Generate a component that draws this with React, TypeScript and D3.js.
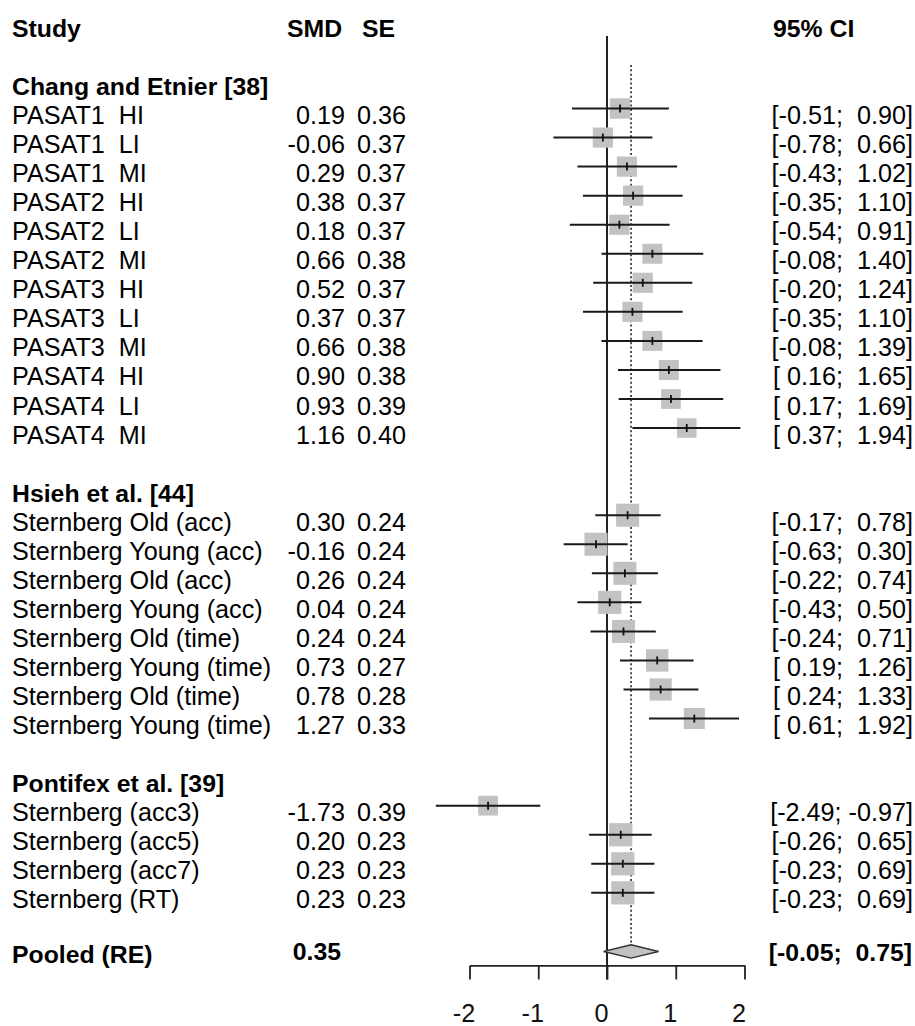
import React, { useEffect, useRef } from "react";
import * as d3 from "d3";

const width = 915;
const height = 1026;

// data
const groups = ["Chang and Etnier [38]", "Hsieh et al. [44]", "Pontifex et al. [39]"];
const studyGroup = [0, 0, 0, 0, 0, 0, 0, 0, 0, 0, 0, 0, 1, 1, 1, 1, 1, 1, 1, 1, 2, 2, 2, 2];
const studies = [
  "PASAT1  HI", "PASAT1  LI", "PASAT1  MI",
  "PASAT2  HI", "PASAT2  LI", "PASAT2  MI",
  "PASAT3  HI", "PASAT3  LI", "PASAT3  MI",
  "PASAT4  HI", "PASAT4  LI", "PASAT4  MI",
  "Sternberg Old (acc)", "Sternberg Young (acc)", "Sternberg Old (acc)", "Sternberg Young (acc)",
  "Sternberg Old (time)", "Sternberg Young (time)", "Sternberg Old (time)", "Sternberg Young (time)",
  "Sternberg (acc3)", "Sternberg (acc5)", "Sternberg (acc7)", "Sternberg (RT)",
];
const smd = [0.19, -0.06, 0.29, 0.38, 0.18, 0.66, 0.52, 0.37, 0.66, 0.9, 0.93, 1.16,
  0.3, -0.16, 0.26, 0.04, 0.24, 0.73, 0.78, 1.27,
  -1.73, 0.2, 0.23, 0.23];
const se = [0.36, 0.37, 0.37, 0.37, 0.37, 0.38, 0.37, 0.37, 0.38, 0.38, 0.39, 0.4,
  0.24, 0.24, 0.24, 0.24, 0.24, 0.27, 0.28, 0.33,
  0.39, 0.23, 0.23, 0.23];
const ciLower = [-0.51, -0.78, -0.43, -0.35, -0.54, -0.08, -0.2, -0.35, -0.08, 0.16, 0.17, 0.37,
  -0.17, -0.63, -0.22, -0.43, -0.24, 0.19, 0.24, 0.61,
  -2.49, -0.26, -0.23, -0.23];
const ciUpper = [0.9, 0.66, 1.02, 1.1, 0.91, 1.4, 1.24, 1.1, 1.39, 1.65, 1.69, 1.94,
  0.78, 0.3, 0.74, 0.5, 0.71, 1.26, 1.33, 1.92,
  -0.97, 0.65, 0.69, 0.69];
const pooled = { label: "Pooled (RE)", smd: 0.35, lower: -0.05, upper: 0.75 };
const xTicks = [-2, -1, 0, 1, 2];

const tau2 = 0.2; // between-study variance, for random-effects square sizes
const font = "'Liberation Sans', Arial, sans-serif";
const fontSize = 25.2;
const boldSize = 24.8;
const textDrop = 15.5;

const fmt = (v: number) => v.toFixed(2).padStart(5, " ");

const ForestPlot = () => {
  const ref = useRef<SVGSVGElement | null>(null);

  const chart = () => {
    const svg = d3.select(ref.current)
      .attr("width", width)
      .attr("height", height)
      .attr("viewBox", [0, 0, width, height].join(" "))
      .attr("xml:space", "preserve")
      .style("position", "absolute")
      .style("left", "0px")
      .style("top", "0px")
      .style("background", "#fff")
      .attr("font-family", font)
      .attr("font-size", fontSize);
    svg.selectAll("*").remove();

    // row layout: header, blank, then each group header + studies + blank, then pooled
    type Row = { kind: "group" | "study"; text: string; i?: number; r: number };
    const rows: Row[] = [];
    let r = 2;
    groups.forEach((g, gi) => {
      rows.push({ kind: "group", text: g, r: r++ });
      studies.forEach((s, i) => {
        if (studyGroup[i] === gi) rows.push({ kind: "study", text: s, i, r: r++ });
      });
      r++;
    });
    const pooledRow = r;

    const y = d3.scaleLinear().domain([0, pooledRow]).range([21.35, 21.35 + pooledRow * 29.05]);
    const x = d3.scaleLinear().domain([-2, 2]).range([469.5, 744.5]);
    const axisY = y(pooledRow + 0.5);

    // headers
    const head = svg.append("g").attr("font-weight", "bold").attr("font-size", boldSize);
    head.append("text").attr("x", 12).attr("y", y(0) + textDrop).text("Study");
    head.append("text").attr("x", 287).attr("y", y(0) + textDrop).text("SMD");
    head.append("text").attr("x", 362).attr("y", y(0) + textDrop).text("SE");
    head.append("text").attr("x", 773).attr("y", y(0) + textDrop).text("95% CI");

    // left text columns
    const txt = svg.append("g");
    txt.selectAll("text.lab")
      .data(rows)
      .join("text")
      .attr("class", "lab")
      .attr("xml:space", "preserve")
      .attr("x", 12)
      .attr("y", d => y(d.r) + textDrop)
      .attr("font-weight", d => d.kind === "group" ? "bold" : "normal")
      .attr("font-size", d => d.kind === "group" ? boldSize : fontSize)
      .text(d => d.text);

    const srows = rows.filter(d => d.kind === "study");
    txt.selectAll("text.smd")
      .data(srows)
      .join("text")
      .attr("class", "smd")
      .attr("x", 345)
      .attr("y", d => y(d.r) + textDrop)
      .attr("text-anchor", "end")
      .text(d => smd[d.i!].toFixed(2));
    txt.selectAll("text.se")
      .data(srows)
      .join("text")
      .attr("class", "se")
      .attr("x", 406)
      .attr("y", d => y(d.r) + textDrop)
      .attr("text-anchor", "end")
      .text(d => se[d.i!].toFixed(2));
    txt.selectAll("text.ci")
      .data(srows)
      .join("text")
      .attr("class", "ci")
      .attr("xml:space", "preserve")
      .attr("x", 913)
      .attr("y", d => y(d.r) + textDrop)
      .attr("text-anchor", "end")
      .text(d => `[${fmt(ciLower[d.i!])}; ${fmt(ciUpper[d.i!])}]`);

    // pooled row
    const pg = svg.append("g").attr("font-weight", "bold").attr("font-size", boldSize);
    pg.append("text").attr("x", 12).attr("y", y(pooledRow) + 12).text(pooled.label);
    pg.append("text").attr("x", 341).attr("y", y(pooledRow) + 9).attr("text-anchor", "end")
      .text(pooled.smd.toFixed(2));
    pg.append("text").attr("xml:space", "preserve")
      .attr("x", 912).attr("y", y(pooledRow) + 10).attr("text-anchor", "end")
      .text(`[${fmt(pooled.lower)}; ${fmt(pooled.upper)}]`);

    // zero line and pooled reference line
    svg.append("line")
      .attr("x1", x(0)).attr("x2", x(0))
      .attr("y1", y(0.5)).attr("y2", axisY + 14)
      .attr("stroke", "#222").attr("stroke-width", 2);
    svg.append("line")
      .attr("x1", x(pooled.smd)).attr("x2", x(pooled.smd))
      .attr("y1", y(1.5)).attr("y2", y(pooledRow) - 6.7)
      .attr("stroke", "#222").attr("stroke-width", 1.6)
      .attr("stroke-dasharray", "2,2.4");

    // squares, CIs and point ticks
    const half = (i: number) => 5.85 / Math.sqrt(se[i] ** 2 + tau2);
    const marks = svg.append("g");
    marks.selectAll("rect")
      .data(srows)
      .join("rect")
      .attr("x", d => x(smd[d.i!]) - half(d.i!))
      .attr("y", d => y(d.r) - half(d.i!))
      .attr("width", d => 2 * half(d.i!))
      .attr("height", d => 2 * half(d.i!))
      .attr("fill", "#c2c2c2");
    marks.selectAll("line.ci")
      .data(srows)
      .join("line")
      .attr("class", "ci")
      .attr("x1", d => x(ciLower[d.i!]))
      .attr("x2", d => x(ciUpper[d.i!]))
      .attr("y1", d => y(d.r))
      .attr("y2", d => y(d.r))
      .attr("stroke", "#1a1a1a")
      .attr("stroke-width", 2);
    marks.selectAll("line.pt")
      .data(srows)
      .join("line")
      .attr("class", "pt")
      .attr("x1", d => x(smd[d.i!]))
      .attr("x2", d => x(smd[d.i!]))
      .attr("y1", d => y(d.r) - 4)
      .attr("y2", d => y(d.r) + 4)
      .attr("stroke", "#111")
      .attr("stroke-width", 1.8);

    // pooled diamond
    const py = y(pooledRow) + 0.5;
    svg.append("path")
      .attr("d", `M${x(pooled.lower)},${py} L${x(pooled.smd)},${py - 6.7} L${x(pooled.upper)},${py} L${x(pooled.smd)},${py + 6.7} Z`)
      .attr("fill", "#c2c2c2")
      .attr("stroke", "#333")
      .attr("stroke-width", 1.4);

    // x axis
    const xAxis = d3.axisBottom(x).tickValues(xTicks).tickSize(14).tickSizeOuter(0)
      .tickFormat(d => String(d));
    svg.append("g")
      .attr("transform", `translate(0,${axisY})`)
      .call(xAxis)
      .call(g => g.selectAll("path, line").attr("stroke", "#222").attr("stroke-width", 1.8))
      .call(g => g.selectAll("text")
        .attr("fill", "#111")
        .attr("font-size", fontSize)
        .attr("font-family", font)
        .attr("dy", 0)
        .attr("y", 56.5)
        .attr("x", -6))
      .call(g => g.attr("font-size", null).attr("font-family", null));
  };

  useEffect(() => {
    chart();
  }, []);

  return (
    <div>
      <svg ref={ref} />
    </div>
  );
};

export default function App() {
  return <ForestPlot />;
}
